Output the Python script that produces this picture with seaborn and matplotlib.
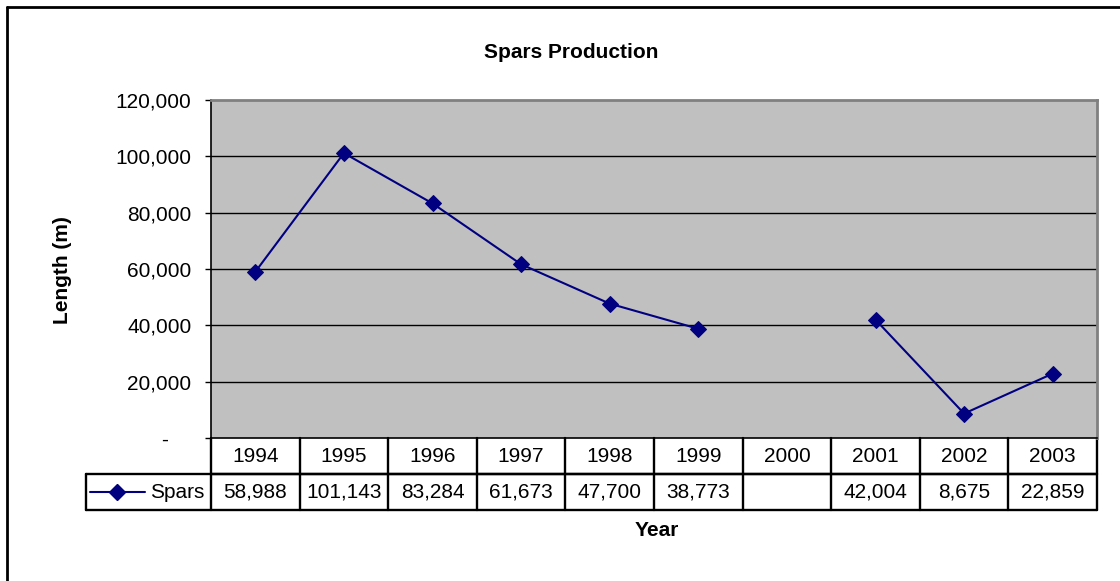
import numpy as np
import pandas as pd
import seaborn as sns
import matplotlib.pyplot as plt
from matplotlib.lines import Line2D
from matplotlib.ticker import FuncFormatter

# data
years = [1994, 1995, 1996, 1997, 1998, 1999, 2000, 2001, 2002, 2003]
spars = [58988, 101143, 83284, 61673, 47700, 38773, np.nan, 42004, 8675, 22859]
series_name = 'Spars'

df = pd.DataFrame({'Year': years, 'Length': spars})
# break the line at the missing year
df['segment'] = df['Length'].isna().cumsum()
df_plot = df.dropna()

sns.set_style('white')
plt.rcParams['font.family'] = ['Liberation Sans', 'DejaVu Sans']
plt.rcParams['text.color'] = 'black'
plt.rcParams['ytick.color'] = 'black'
plt.rcParams['ytick.labelcolor'] = 'black'

W, H = 1120, 581
FS = 15
fig = plt.figure(figsize=(W / 100, H / 100), dpi=100)
left, right, top, bottom = 211, 1097, 100, 438
ax = fig.add_axes([left / W, 1 - bottom / H, (right - left) / W, (bottom - top) / H])
ax.set_facecolor('#C0C0C0')

navy = '#000080'
sns.lineplot(data=df_plot, x='Year', y='Length', units='segment', estimator=None,
             color=navy, lw=1.5, marker='D', markersize=8, markeredgecolor=navy,
             ax=ax, legend=False, zorder=3)

ax.set_xlim(years[0] - 0.5, years[-1] + 0.5)
ax.set_ylim(0, 120000)
ax.set_yticks(range(0, 120001, 20000))
# accounting style: zero shown as a dash, padded
ax.yaxis.set_major_formatter(FuncFormatter(lambda v, p: '-    ' if v == 0 else f'{int(v):,}'))
ax.set_xticks([])
ax.set_xlabel('')
ax.set_ylabel('')
for v in range(20000, 120000, 20000):
    ax.axhline(v, color='black', lw=1.0, zorder=1)
ax.tick_params(axis='y', direction='out', length=4, width=1, color='black',
               labelsize=FS, pad=10, left=True)
for s in ['top', 'right']:
    ax.spines[s].set_color('#808080')
    ax.spines[s].set_linewidth(2)
ax.spines['left'].set_color('black')
ax.spines['left'].set_linewidth(1.2)
ax.spines['bottom'].set_color('black')
ax.spines['bottom'].set_linewidth(1.2)

# data table below the plot
trans = ax.get_xaxis_transform()
ph = bottom - top
r1 = -36 / ph
r2 = -72 / ph
leg_left = years[0] - 0.5 - (left - 86) / ((right - left) / len(years))
lw_t = 1.7
kw = dict(transform=trans, color='black', lw=lw_t, clip_on=False)
ax.add_line(Line2D([years[0] - 0.5, years[-1] + 0.5], [r1, r1], **kw))
ax.add_line(Line2D([leg_left, years[-1] + 0.5], [r1, r1], **kw))
ax.add_line(Line2D([leg_left, years[-1] + 0.5], [r2, r2], **kw))
ax.add_line(Line2D([leg_left, leg_left], [r1, r2], **kw))
ax.add_line(Line2D([years[0] - 0.5, years[0] - 0.5], [0, r2], **kw))
for y in years:
    ax.add_line(Line2D([y + 0.5, y + 0.5], [0, r2], **kw))
    ax.text(y, r1 / 2, str(y), transform=trans, ha='center', va='center', fontsize=FS)
for y, v in zip(years, spars):
    if not np.isnan(v):
        ax.text(y, (r1 + r2) / 2, f'{int(v):,}', transform=trans, ha='center',
                va='center', fontsize=FS)

# legend key inside the table
cell_w = years[0] - 0.5 - leg_left
ym = (r1 + r2) / 2
ax.add_line(Line2D([leg_left + 0.03 * cell_w, leg_left + 0.47 * cell_w], [ym, ym],
                   transform=trans, color=navy, lw=1.5, clip_on=False))
ax.add_line(Line2D([leg_left + 0.25 * cell_w], [ym], transform=trans, color=navy,
                   marker='D', markersize=8, clip_on=False))
ax.text(years[0] - 0.5 - 0.07, ym, series_name, transform=trans, ha='right',
        va='center', fontsize=FS)

fig.text(571 / W, 1 - 52 / H, 'Spars Production', ha='center',
         va='center', fontsize=FS, fontweight='bold')
fig.text(62 / W, 1 - 270 / H, 'Length (m)', ha='center', va='center', rotation=90,
         fontsize=FS, fontweight='bold')
fig.text(657 / W, 1 - 531 / H, 'Year', ha='center', va='center', fontsize=FS,
         fontweight='bold')

# outer chart frame (clipped at right and bottom)
fig.add_artist(Line2D([7 / W, 7 / W], [0, 1 - 7 / H], transform=fig.transFigure,
                      color='black', lw=2))
fig.add_artist(Line2D([7 / W, 1], [1 - 7 / H, 1 - 7 / H], transform=fig.transFigure,
                      color='black', lw=2))

fig.savefig('out.png', dpi=100)
